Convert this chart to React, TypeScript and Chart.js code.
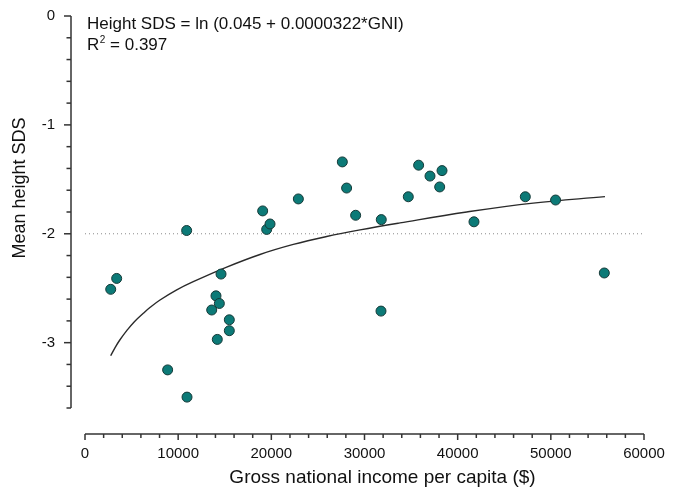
import React, { useEffect, useRef } from 'react';
import { Chart, registerables } from 'chart.js';

Chart.register(...registerables);

// Scatter data: gross national income per capita ($) vs mean height SDS
const gniValues = [2760, 3400, 8870, 10910, 10950, 13600, 14060, 14200, 14420, 14600, 15490, 15490, 19070, 19500, 19860, 22900, 27620, 28080, 29050, 31770, 31800, 34700, 35810, 37030, 38070, 38320, 41750, 47260, 50510, 55740];
const heightSds = [-2.51, -2.41, -3.25, -1.97, -3.5, -2.7, -2.57, -2.97, -2.64, -2.37, -2.79, -2.89, -1.79, -1.96, -1.91, -1.68, -1.34, -1.58, -1.83, -2.71, -1.87, -1.66, -1.37, -1.47, -1.57, -1.42, -1.89, -1.66, -1.69, -2.36];

// Fitted curve
const fitX = [2760, 3200, 3700, 4480, 5300, 6260, 7000, 8050, 9800, 11620, 15210, 18780, 22360, 25940, 29520, 33810, 40970, 48110, 55810];
const fitY = [-3.12, -3.05, -2.98, -2.89, -2.807, -2.73, -2.675, -2.608, -2.517, -2.44, -2.306, -2.19, -2.098, -2.025, -1.964, -1.9, -1.8, -1.718, -1.659];

// Dotted reference line
const refX = [0, 60000];
const refY = [-2, -2];

// Axes
const xMin = 0;
const xMax = 60000;
const xMajorStep = 10000;
const xMinorStep = 2000;
const yMin = -3.6;
const yMax = 0;
const yTickValues = [0, -1, -2, -3];
const yMinorStep = 0.2;

const equationText = 'Height SDS = ln (0.045 + 0.0000322*GNI)';
const r2Label = 'R';
const r2Sup = '2';
const r2Value = ' = 0.397';
const xTitle = 'Gross national income per capita ($)';
const yTitle = 'Mean height SDS';

const FONT = '"Liberation Sans", Arial, sans-serif';
const AXIS_COLOR = '#333333';
const TEXT_COLOR = '#111111';

const zeroPadding = (s: any) => {
  s.paddingTop = 0;
  s.paddingBottom = 0;
  s.paddingLeft = 0;
  s.paddingRight = 0;
};

const axesPlugin = {
  id: 'customAxes',
  afterDraw(chart: any) {
    const { ctx, chartArea, scales } = chart;
    const xs = scales.x;
    const ys = scales.y;
    ctx.save();
    ctx.strokeStyle = AXIS_COLOR;
    ctx.lineWidth = 1.5;
    ctx.lineCap = 'butt';

    // Y axis (detached to the left)
    const yAxisX = chartArea.left - 14;
    const yTop = ys.getPixelForValue(yMax);
    const yBot = ys.getPixelForValue(yMin);
    ctx.beginPath();
    ctx.moveTo(yAxisX, yTop);
    ctx.lineTo(yAxisX, yBot);
    ctx.stroke();
    const nY = Math.round((yMax - yMin) / yMinorStep);
    for (let i = 0; i <= nY; i++) {
      const v = yMax - i * yMinorStep;
      const major = Math.abs(v - Math.round(v)) < 1e-6;
      const py = ys.getPixelForValue(v);
      ctx.beginPath();
      ctx.moveTo(yAxisX, py);
      ctx.lineTo(yAxisX - (major ? 7 : 4.5), py);
      ctx.stroke();
    }

    // X axis (detached below)
    const xAxisY = chartArea.bottom + 26;
    const xL = xs.getPixelForValue(xMin);
    const xR = xs.getPixelForValue(xMax);
    ctx.beginPath();
    ctx.moveTo(xL, xAxisY);
    ctx.lineTo(xR, xAxisY);
    ctx.stroke();
    const nX = Math.round((xMax - xMin) / xMinorStep);
    for (let i = 0; i <= nX; i++) {
      const v = xMin + i * xMinorStep;
      const major = v % xMajorStep === 0;
      const px = xs.getPixelForValue(v);
      ctx.beginPath();
      ctx.moveTo(px, xAxisY);
      ctx.lineTo(px, xAxisY + (major ? 6 : 4));
      ctx.stroke();
    }

    // Axis titles
    ctx.fillStyle = TEXT_COLOR;
    ctx.textAlign = 'center';
    ctx.textBaseline = 'middle';
    ctx.font = `19px ${FONT}`;
    ctx.fillText(xTitle, (xL + xR) / 2 + 18, chart.height - 14);
    ctx.save();
    ctx.font = `18px ${FONT}`;
    ctx.translate(20, (yTop + yBot) / 2 - 24);
    ctx.rotate(-Math.PI / 2);
    ctx.fillText(yTitle, 0, 0);
    ctx.restore();

    // Equation annotation
    const tx = chartArea.left + 2;
    ctx.textAlign = 'left';
    ctx.textBaseline = 'alphabetic';
    ctx.font = `17px ${FONT}`;
    ctx.fillText(equationText, tx, chartArea.top + 13);
    const by = chartArea.top + 34;
    ctx.fillText(r2Label, tx, by);
    const rw = ctx.measureText(r2Label).width;
    ctx.font = `10px ${FONT}`;
    ctx.fillText(r2Sup, tx + rw + 0.5, by - 7);
    const sw = ctx.measureText(r2Sup).width;
    ctx.font = `17px ${FONT}`;
    ctx.fillText(r2Value, tx + rw + sw + 0.5, by);
    ctx.restore();
  },
};

export default function App() {
  const canvasRef = useRef<HTMLCanvasElement | null>(null);

  useEffect(() => {
    document.body.style.margin = '0';
    const canvas = canvasRef.current;
    if (!canvas) return;

    const points = gniValues.map((x, i) => ({ x, y: heightSds[i] }));
    const fit = fitX.map((x, i) => ({ x, y: fitY[i] }));
    const ref = refX.map((x, i) => ({ x, y: refY[i] }));

    const chart = new Chart(canvas, {
      type: 'scatter',
      data: {
        datasets: [
          {
            label: 'Countries',
            data: points,
            order: 0,
            pointRadius: 5,
            pointHoverRadius: 5,
            pointBackgroundColor: '#0c7a77',
            pointBorderColor: '#163a38',
            pointBorderWidth: 1,
          },
          {
            label: 'Fit',
            data: fit,
            order: 1,
            showLine: true,
            pointRadius: 0,
            borderColor: '#2a2a2a',
            borderWidth: 1.4,
            tension: 0.4,
          } as any,
          {
            label: 'Reference',
            data: ref,
            order: 2,
            showLine: true,
            pointRadius: 0,
            borderColor: '#8a8a8a',
            borderWidth: 1,
            borderDash: [1, 3],
          } as any,
        ],
      },
      options: {
        animation: false,
        responsive: false,
        devicePixelRatio: 1,
        layout: { padding: { top: 16, right: 29, bottom: 0, left: 0 } },
        plugins: {
          legend: { display: false },
          tooltip: { enabled: false },
        },
        scales: {
          x: {
            type: 'linear',
            min: xMin,
            max: xMax,
            grid: { display: false, drawTicks: false },
            border: { display: false },
            ticks: {
              stepSize: xMajorStep,
              padding: 37,
              color: TEXT_COLOR,
              font: { family: FONT, size: 15 },
              maxRotation: 0,
              callback: (v: any) => String(v),
            },
            afterFit: (s: any) => {
              s.height = 84;
              zeroPadding(s);
            },
          },
          y: {
            type: 'linear',
            min: yMin,
            max: yMax,
            grid: { display: false, drawTicks: false },
            border: { display: false },
            ticks: {
              padding: 30,
              color: TEXT_COLOR,
              font: { family: FONT, size: 15 },
              callback: (v: any) => String(v),
            },
            afterBuildTicks: (s: any) => {
              s.ticks = yTickValues.map((value) => ({ value }));
            },
            afterFit: (s: any) => {
              s.width = 85;
              zeroPadding(s);
            },
          },
        },
      } as any,
      plugins: [axesPlugin],
    });

    return () => chart.destroy();
  }, []);

  return <canvas ref={canvasRef} width={673} height={492} style={{ display: 'block' }} />;
}
